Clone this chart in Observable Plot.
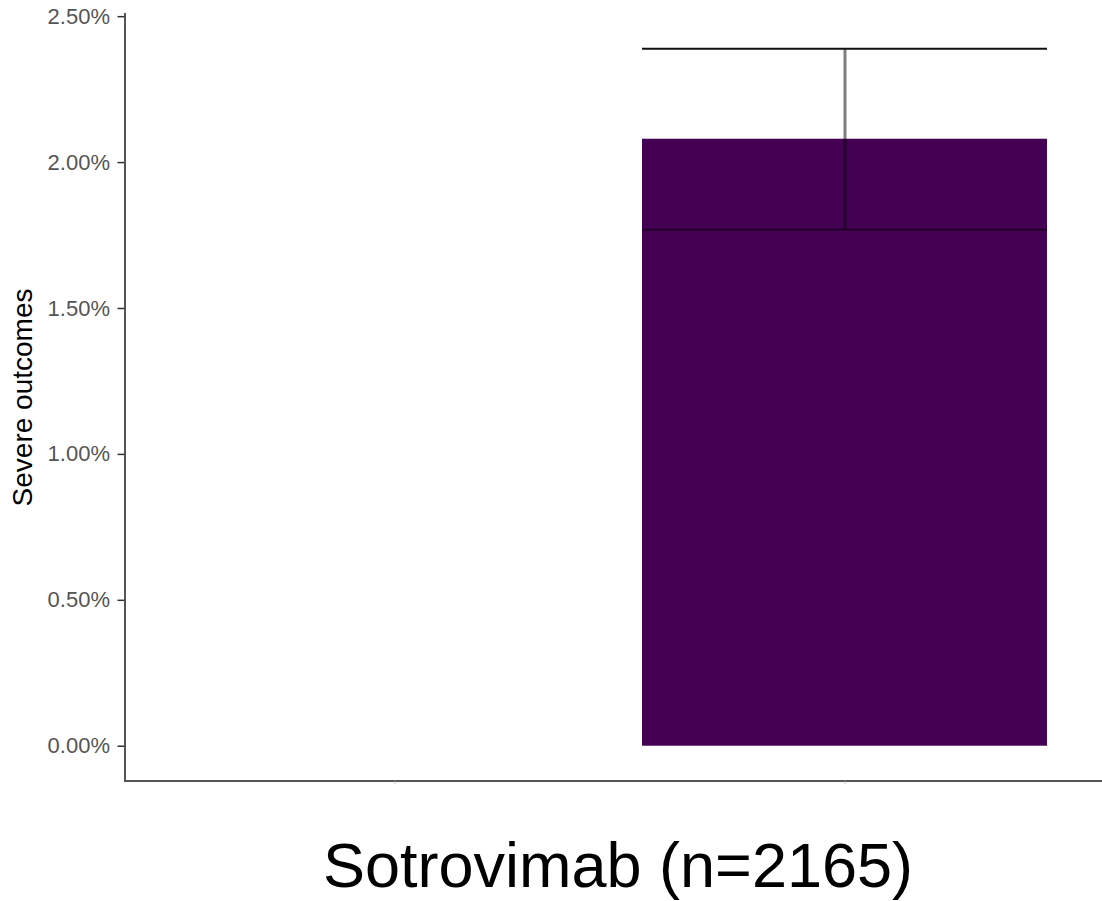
<!DOCTYPE html>
<html>
<head>
<meta charset="utf-8">
<script src="https://cdn.jsdelivr.net/npm/d3@7"></script>
<script src="https://cdn.jsdelivr.net/npm/@observablehq/plot@0.6"></script>
<style>
  html, body { margin: 0; padding: 0; background: #fff; }
  #wrap { position: relative; width: 1102px; height: 901px; overflow: hidden; font-family: "Liberation Sans", Arial, sans-serif; }
  #xtitle { position: absolute; left: 67px; top: 834px; width: 1102px; text-align: center; font-size: 63px; line-height: 1; color: #000; white-space: nowrap; }
</style>
</head>
<body>
<div id="wrap"><div id="chart"></div><div id="xtitle"></div></div>
<script>
// Data
const groups = ["Other", "Sotrovimab"];
const rate = [null, 0.0208];
const lower = [null, 0.0177];
const upper = [null, 0.0239];
const yTicks = [0, 0.005, 0.01, 0.015, 0.02, 0.025];
const yTitle = "Severe outcomes";
const xTitle = "Sotrovimab (n=2165)";

const data = groups.map((g, i) => ({group: g, rate: rate[i], lower: lower[i], upper: upper[i]}));
const shown = data.filter(d => d.rate != null);

const chart = Plot.plot({
  width: 1102,
  height: 800,
  marginLeft: 124.5,
  marginRight: -12.6,
  marginTop: 13.4,
  marginBottom: 19.4,
  style: {background: "#fff", fontFamily: "Liberation Sans, Arial, sans-serif"},
  x: {type: "band", domain: groups, paddingInner: 0.1, paddingOuter: 0.15, align: 0.5},
  y: {domain: [-0.001195, 0.025095]},
  marks: [
    Plot.barY(shown, {x: "group", y: "rate", fill: "#440154"}),
    Plot.ruleX(shown, {x: "group", y1: "lower", y2: "upper", stroke: "#000", strokeOpacity: 0.5, strokeWidth: 3}),
    Plot.tickY(shown, {x: "group", y: "upper", stroke: "#111", strokeWidth: 2}),
    Plot.tickY(shown, {x: "group", y: "lower", stroke: "#000", strokeOpacity: 0.5, strokeWidth: 2}),
    Plot.frame({anchor: "left", stroke: "#555", strokeWidth: 2}),
    Plot.frame({anchor: "bottom", stroke: "#555", strokeWidth: 2}),
    Plot.axisY({ticks: yTicks, tickFormat: d3.format(".2%"), tickSize: 7, tickPadding: 8, fontSize: 22, color: "#555", stroke: "#333", strokeWidth: 1.5, label: null}),
    Plot.axisX({tickSize: 3, tickFormat: () => "", stroke: "#aaa", label: null}),
    Plot.text([yTitle], {text: d => d, frameAnchor: "left", textAnchor: "middle", dx: -102, rotate: -90, fontSize: 28, fill: "#000"})
  ]
});
document.getElementById("chart").appendChild(chart);
document.getElementById("xtitle").textContent = xTitle;
</script>
</body>
</html>
